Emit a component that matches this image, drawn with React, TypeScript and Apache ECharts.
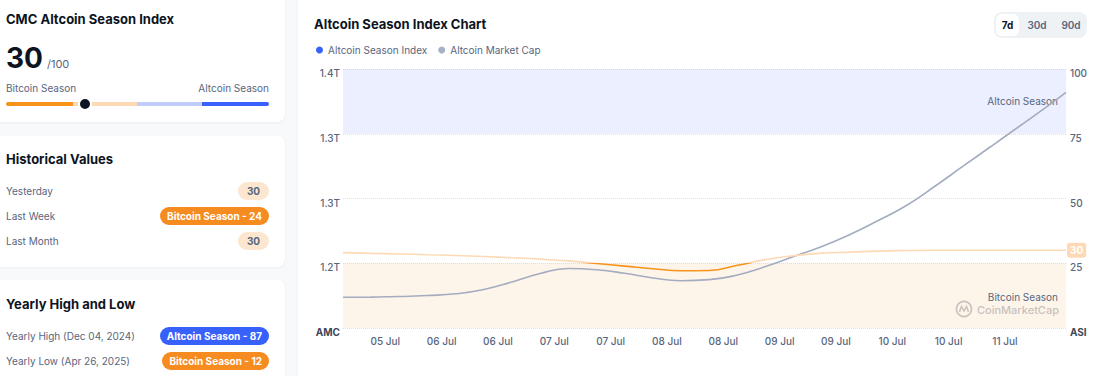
import React, { useEffect, useRef } from "react";
import * as echarts from "echarts";

// hours since 05 Jul 03:00
const sampleHours = [0, 6, 12, 18, 24, 30, 36, 42, 48, 54, 60, 66, 72, 78, 84, 90, 96, 102, 108, 114, 120, 126, 132, 138, 144, 150, 154];
const asiValues = [29.1, 28.8, 28.6, 28.3, 28.0, 27.6, 27.1, 26.6, 25.9, 24.9, 23.9, 22.9, 22.1, 22.2, 24.2, 26.4, 27.9, 28.9, 29.3, 29.7, 29.9, 30, 30, 30, 30, 30, 30];
const marketCapT = [1.1356, 1.1358, 1.1364, 1.1376, 1.1396, 1.1446, 1.1533, 1.1631, 1.1689, 1.1675, 1.1634, 1.1579, 1.1548, 1.156, 1.1614, 1.1712, 1.1828, 1.1944, 1.2083, 1.2245, 1.2419, 1.2639, 1.2871, 1.3102, 1.3334, 1.3566, 1.3728];
const xTickHours = [9, 21, 33, 45, 57, 69, 81, 93, 105, 117, 129, 141];
const xTickLabels = ["05 Jul", "06 Jul", "06 Jul", "07 Jul", "07 Jul", "08 Jul", "08 Jul", "09 Jul", "09 Jul", "10 Jul", "10 Jul", "11 Jul"];
const seriesNames = ["Altcoin Season Index", "Altcoin Market Cap"];
const historicalRows = [
  { label: "Yesterday", value: 30, season: "" },
  { label: "Last Week", value: 24, season: "Bitcoin Season" },
  { label: "Last Month", value: 30, season: "" },
];
const yearlyRows = [
  { label: "Yearly High (Dec 04, 2024)", value: 87, season: "Altcoin Season" },
  { label: "Yearly Low (Apr 26, 2025)", value: 12, season: "Bitcoin Season" },
];
const currentIndex = 30;

const FONT = "Inter, 'Noto Sans', sans-serif";
const DARK = "#0d1421";
const GRAY = "#58667e";
const ORANGE = "#f7931a";
const BLUE = "#3861fb";
const PEACH = "#fdd9b5";

const W = 1096;

function T(props: { x?: number; r?: number; cy: number; size: number; weight?: number; color?: string; children: any }) {
  const lh = Math.round(props.size * 1.4);
  const style: any = {
    position: "absolute",
    top: props.cy - lh / 2,
    lineHeight: lh + "px",
    height: lh,
    fontSize: props.size,
    fontWeight: props.weight || 400,
    color: props.color || GRAY,
    whiteSpace: "nowrap",
  };
  if (props.r !== undefined) style.right = W - props.r;
  else style.left = props.x;
  return <div style={style}>{props.children}</div>;
}

function Pill(props: { cy: number; text: string; bg: string; color: string; h?: number }) {
  const h = props.h || 18;
  return (
    <div
      style={{
        position: "absolute",
        right: W - 269,
        top: props.cy - h / 2,
        height: h,
        lineHeight: h + "px",
        minWidth: 31,
        boxSizing: "border-box",
        padding: "0 7px",
        borderRadius: h / 2,
        background: props.bg,
        color: props.color,
        fontSize: 10,
        fontWeight: 700,
        textAlign: "center",
        whiteSpace: "nowrap",
      }}
    >
      {props.text}
    </div>
  );
}

function pillFor(value: number, season: string, cy: number, h?: number) {
  if (!season) return <Pill cy={cy} h={h} text={String(value)} bg="#fde6cf" color={GRAY} />;
  const bg = season === "Altcoin Season" ? BLUE : "#f68b1f";
  return <Pill cy={cy} h={h} text={`${season} - ${value}`} bg={bg} color="#ffffff" />;
}

const cardStyle = (left: number, top: number, width: number, height: number): any => ({
  position: "absolute",
  left,
  top,
  width,
  height,
  background: "#ffffff",
  borderRadius: 8,
  boxShadow: "0 1px 3px rgba(88,102,126,0.08)",
});

function Chart() {
  const ref = useRef<HTMLDivElement>(null);
  useEffect(() => {
    if (!ref.current) return;
    const chart = echarts.init(ref.current, null, { renderer: "svg" });
    const asiData = sampleHours.map((h, i) => [h, asiValues[i]]);
    const mcData = sampleHours.map((h, i) => [h, marketCapT[i]]);
    const labelBase = { fontSize: 10, color: GRAY, fontFamily: FONT, fontWeight: 500 };
    chart.setOption({
      animation: false,
      textStyle: { fontFamily: FONT },
      legend: {
        left: 13,
        top: 40,
        icon: "circle",
        itemWidth: 7,
        itemHeight: 7,
        itemGap: 11,
        textStyle: { fontSize: 10, color: GRAY, fontFamily: FONT },
        data: [
          { name: seriesNames[0], itemStyle: { color: BLUE } },
          { name: seriesNames[1], itemStyle: { color: "#a6b0c3" } },
        ],
      },
      grid: { left: 45, right: 40, top: 69, bottom: 48 },
      xAxis: {
        type: "value",
        min: 0,
        max: 154,
        axisLine: { show: false },
        axisTick: { show: false },
        splitLine: { show: false },
        axisLabel: {
          ...labelBase,
          margin: 8,
          customValues: xTickHours,
          formatter: (v: number) => {
            const i = xTickHours.indexOf(v);
            return i >= 0 ? xTickLabels[i] : "";
          },
        },
      },
      yAxis: [
        {
          type: "value",
          position: "right",
          min: 0,
          max: 100,
          interval: 25,
          axisLine: { show: false },
          axisTick: { show: false },
          splitLine: { lineStyle: { type: "dotted", color: "#dde1e8" } },
          axisLabel: {
            ...labelBase,
            margin: 4,
            padding: [8, 0, 0, 0],
            formatter: (v: number) => (v === 0 ? "{b|ASI}" : String(v)),
            rich: { b: { fontWeight: 700, color: "#3e4758", fontSize: 10, fontFamily: FONT } },
          },
        },
        {
          type: "value",
          position: "left",
          min: 1.1,
          max: 1.4,
          alignTicks: true,
          axisLine: { show: false },
          axisTick: { show: false },
          splitLine: { show: false },
          axisLabel: {
            ...labelBase,
            margin: 3,
            padding: [8, 0, 0, 0],
            formatter: (v: number) => (Math.abs(v - 1.1) < 1e-6 ? "{b|AMC}" : v.toFixed(1) + "T"),
            rich: { b: { fontWeight: 700, color: "#3e4758", fontSize: 10, fontFamily: FONT } },
          },
        },
      ],
      visualMap: {
        type: "piecewise",
        show: false,
        seriesIndex: 0,
        dimension: 1,
        pieces: [
          { lt: 25, color: ORANGE },
          { gte: 25, lte: 75, color: PEACH },
          { gt: 75, color: BLUE },
        ],
      },
      series: [
        {
          name: seriesNames[0],
          type: "line",
          yAxisIndex: 0,
          data: asiData,
          smooth: true,
          showSymbol: false,
          symbol: "none",
          lineStyle: { width: 1.6 },
          z: 3,
          endLabel: {
            show: true,
            distance: 1,
            formatter: (p: any) => String(Math.round(p.value[1])),
            color: "#ffffff",
            fontWeight: 700,
            fontSize: 10,
            fontFamily: FONT,
            backgroundColor: PEACH,
            borderRadius: 3,
            padding: [3, 3, 2, 3],
          },
          markArea: {
            silent: true,
            label: { show: true, position: "insideRight", distance: 8, color: GRAY, fontSize: 10, fontFamily: FONT },
            data: [
              [
                { name: "Altcoin Season", yAxis: 75, itemStyle: { color: "rgba(56,97,251,0.1)" } },
                { yAxis: 100 },
              ],
              [
                { name: "Bitcoin Season", yAxis: 0, itemStyle: { color: "rgba(247,147,26,0.09)" }, label: { offset: [0, 1] } },
                { yAxis: 25 },
              ],
            ],
          },
        },
        {
          name: seriesNames[1],
          type: "line",
          yAxisIndex: 1,
          data: mcData,
          smooth: true,
          showSymbol: false,
          symbol: "none",
          lineStyle: { width: 1.6, color: "#a4acc0" },
          itemStyle: { color: "#a6b0c3" },
          z: 2,
        },
      ],
      graphic: [
        {
          type: "circle",
          shape: { cx: 666, cy: 309, r: 7.5 },
          style: { fill: "none", stroke: "#c4c8d0", lineWidth: 1.6 },
          silent: true,
        },
        {
          type: "polyline",
          shape: { points: [[661.5, 312], [663.5, 306.5], [666, 311], [668.5, 306.5], [670.5, 312]] },
          style: { fill: "none", stroke: "#c4c8d0", lineWidth: 1.5 },
          silent: true,
        },
        {
          type: "text",
          x: 761,
          y: 310,
          silent: true,
          style: {
            text: "CoinMarketCap",
            align: "right",
            verticalAlign: "middle",
            fill: "#c4c8d0",
            font: `500 11px ${FONT}`,
          },
        },
      ],
    });
    return () => chart.dispose();
  }, []);
  return <div ref={ref} style={{ position: "absolute", left: 298, top: 0, width: 808, height: 376 }} />;
}

export default function App() {
  const knobX = 6 + (currentIndex / 100) * 263;
  return (
    <div
      style={{
        position: "fixed",
        left: 0,
        top: 0,
        width: W,
        height: 376,
        overflow: "hidden",
        background: "#f8f9fb",
        fontFamily: FONT,
      }}
    >
      {/* Card 1 */}
      <div style={cardStyle(-10, -10, 295, 132)} />
      <T x={6} cy={19} size={13} weight={700} color={DARK}>CMC Altcoin Season Index</T>
      <div style={{ position: "absolute", left: 6, top: 41, lineHeight: "34px", whiteSpace: "nowrap" }}>
        <span style={{ fontSize: 28, fontWeight: 700, color: DARK }}>{currentIndex}</span>
        <span style={{ fontSize: 11, color: GRAY, marginLeft: 4 }}>/100</span>
      </div>
      <T x={6} cy={88} size={10} color={GRAY}>Bitcoin Season</T>
      <T r={269} cy={88} size={10} color={GRAY}>Altcoin Season</T>
      <div style={{ position: "absolute", left: 6, top: 102, width: 67, height: 4, background: ORANGE, borderRadius: "2px 0 0 2px" }} />
      <div style={{ position: "absolute", left: 73, top: 102, width: 64, height: 4, background: PEACH }} />
      <div style={{ position: "absolute", left: 137, top: 102, width: 65, height: 4, background: "#c3cdfd" }} />
      <div style={{ position: "absolute", left: 202, top: 102, width: 67, height: 4, background: BLUE, borderRadius: "0 2px 2px 0" }} />
      <div
        style={{
          position: "absolute",
          left: knobX - 7,
          top: 104 - 7,
          width: 10,
          height: 10,
          borderRadius: 7,
          background: DARK,
          border: "2px solid #ffffff",
        }}
      />

      {/* Card 2 */}
      <div style={cardStyle(-10, 136, 295, 131)} />
      <T x={6} cy={159} size={13} weight={700} color={DARK}>Historical Values</T>
      {historicalRows.map((row, i) => {
        const cy = [190.5, 216, 241][i];
        return (
          <React.Fragment key={row.label}>
            <T x={6} cy={cy} size={10} color={GRAY}>{row.label}</T>
            {pillFor(row.value, row.season, cy)}
          </React.Fragment>
        );
      })}

      {/* Card 3 */}
      <div style={cardStyle(-10, 280, 295, 130)} />
      <T x={6} cy={304} size={13} weight={700} color={DARK}>Yearly High and Low</T>
      {yearlyRows.map((row, i) => {
        const cy = [335.5, 361][i];
        return (
          <React.Fragment key={row.label}>
            <T x={6} cy={cy} size={10} color={GRAY}>{row.label}</T>
            {pillFor(row.value, row.season, cy, 18)}
          </React.Fragment>
        );
      })}

      {/* Right card */}
      <div style={cardStyle(298, -10, 820, 400)} />
      <T x={314} cy={24} size={13} weight={700} color={DARK}>Altcoin Season Index Chart</T>
      <div style={{ position: "absolute", left: 994, top: 12, width: 93, height: 26, background: "#eff2f5", borderRadius: 8 }} />
      <div
        style={{
          position: "absolute",
          left: 996,
          top: 14,
          width: 23,
          height: 22,
          lineHeight: "22px",
          background: "#ffffff",
          borderRadius: 6,
          textAlign: "center",
          fontSize: 10,
          fontWeight: 700,
          color: DARK,
        }}
      >
        7d
      </div>
      <div style={{ position: "absolute", left: 1025, top: 14, width: 24, height: 22, lineHeight: "22px", textAlign: "center", fontSize: 10, fontWeight: 600, color: GRAY }}>30d</div>
      <div style={{ position: "absolute", left: 1059, top: 14, width: 24, height: 22, lineHeight: "22px", textAlign: "center", fontSize: 10, fontWeight: 600, color: GRAY }}>90d</div>

      <Chart />
    </div>
  );
}
